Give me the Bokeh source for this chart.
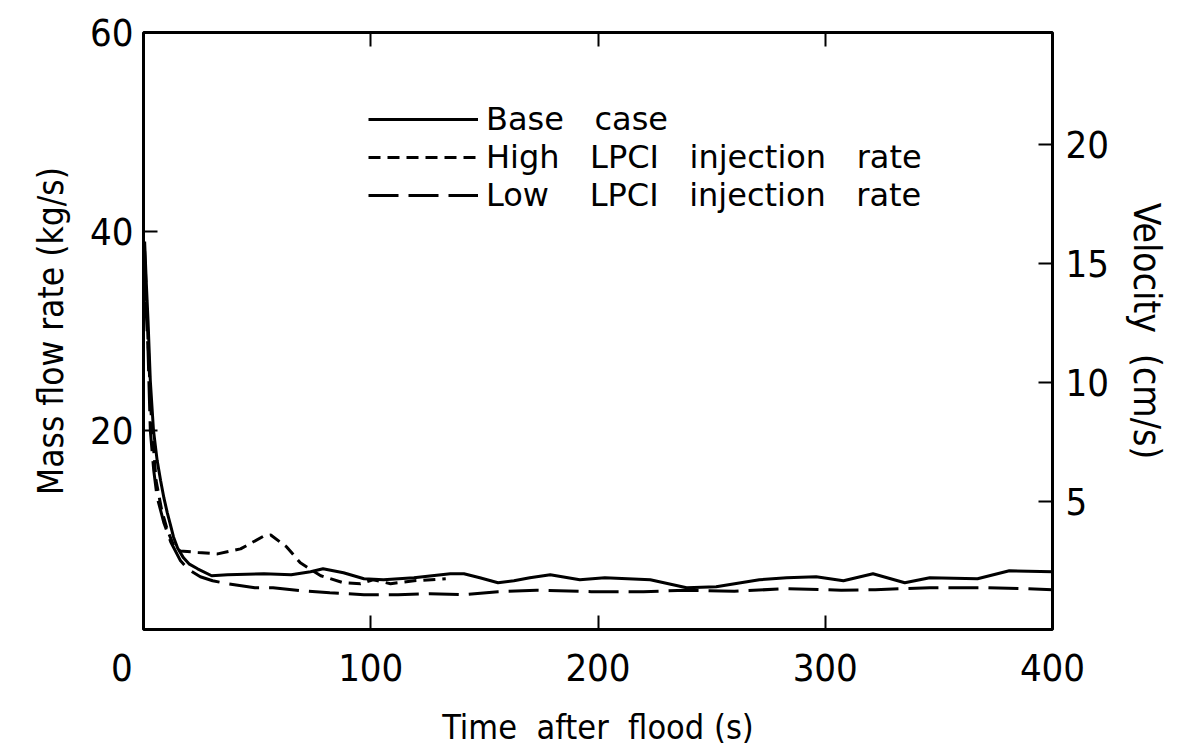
from bokeh.plotting import figure
from bokeh.models import Range1d, LinearAxis, FixedTicker, Legend, LegendItem
from bokeh.embed import file_html
from bokeh.resources import INLINE

# Mass flow rate at the core inlet after flooding, three LPCI cases
base_t = [0.5, 1.2, 2.0, 3.0, 4.4, 6.0, 7.5, 9.0, 10.5, 12.0, 13.2, 15.0, 17.6, 20.0, 23.8,
          30.0, 37.0, 53.0, 65.0, 73.5, 79.0, 88.0, 97.0, 105.6, 119.0, 135.0, 141.0, 148.0,
          156.0, 163.0, 170.0, 179.0, 192.0, 203.0, 223.0, 239.0, 252.0, 271.0, 283.0, 296.0,
          308.0, 321.0, 335.0, 346.0, 367.0, 381.0, 400.0]
base_m = [39.0, 35.0, 31.0, 25.0, 20.0, 17.0, 15.0, 13.2, 11.7, 10.4, 9.3, 8.2, 7.2, 6.6, 6.1,
          5.4, 5.5, 5.6, 5.5, 5.8, 6.1, 5.7, 5.1, 5.0, 5.2, 5.6, 5.6, 5.2,
          4.7, 4.9, 5.2, 5.5, 5.0, 5.2, 5.0, 4.2, 4.3, 5.0, 5.2, 5.3,
          4.9, 5.6, 4.7, 5.2, 5.1, 5.9, 5.8]

high_t = [0.5, 1.2, 2.0, 3.5, 5.5, 8.0, 10.5, 13.0, 16.0, 24.0, 32.6, 42.7, 53.0, 56.0, 63.0,
          69.0, 78.0, 88.0, 95.5, 101.0, 108.7, 119.0, 133.0]
high_m = [38.0, 34.0, 29.0, 21.0, 15.0, 12.0, 10.0, 8.6, 7.9, 7.75, 7.6, 8.1, 9.4, 9.5, 8.3,
          6.7, 5.4, 4.7, 4.6, 5.0, 4.6, 4.9, 5.1]

low_t = [0.5, 1.2, 2.0, 3.0, 4.5, 6.0, 9.0, 12.0, 16.3, 20.0, 25.0, 30.4, 37.0, 49.0, 57.0,
         69.0, 82.0, 97.0, 112.0, 126.0, 141.0, 156.0, 173.0, 197.0, 220.0, 239.0, 260.0,
         283.0, 307.0, 322.0, 346.0, 370.0, 389.0, 400.0]
low_m = [37.0, 32.0, 28.0, 20.0, 16.0, 13.3, 10.7, 8.8, 6.9, 6.0, 5.3, 4.9, 4.6, 4.2, 4.2,
         3.9, 3.7, 3.5, 3.5, 3.6, 3.5, 3.8, 3.95, 3.8, 3.8, 3.95, 3.85,
         4.1, 3.95, 4.0, 4.2, 4.2, 4.1, 4.0]

x_ticks = [0, 100, 200, 300, 400]
y_ticks = [20, 40, 60]
vel_ticks = [5, 10, 15, 20]
# non-breaking spaces keep the wide word gaps of the key
series_labels = ["Base\u00a0\u00a0 case",
                 "High\u00a0\u00a0 LPCI\u00a0\u00a0 injection\u00a0\u00a0 rate",
                 "Low\u00a0\u00a0\u00a0 LPCI\u00a0\u00a0 injection\u00a0\u00a0 rate"]

NARROW = "DejaVu Sans Condensed"
WIDE = "DejaVu Sans"

p = figure(width=1178, height=749, x_range=Range1d(0, 400), y_range=Range1d(0, 60),
           output_backend="svg", toolbar_location=None,
           min_border_left=143, min_border_right=126, min_border_top=32, min_border_bottom=120)
p.background_fill_color = "white"
p.border_fill_color = "white"
p.xgrid.visible = False
p.ygrid.visible = False
p.outline_line_color = "black"
p.outline_line_width = 3

p.extra_y_ranges = {"vel": Range1d(-0.38, 24.69)}


def style_axis(ax, label_size="38px", title_size="36px"):
    ax.axis_line_color = None
    ax.major_tick_in = 14
    ax.major_tick_out = 0
    ax.major_tick_line_color = "black"
    ax.major_tick_line_width = 2
    ax.minor_tick_line_color = None
    ax.major_label_text_font = NARROW
    ax.major_label_text_font_size = label_size
    ax.major_label_text_color = "black"
    ax.axis_label_text_font = NARROW
    ax.axis_label_text_font_size = title_size
    ax.axis_label_text_font_style = "normal"
    ax.axis_label_text_color = "black"


xa = p.xaxis[0]
xa.ticker = FixedTicker(ticks=x_ticks)
# the origin label is pushed left of the corner
xa.major_label_overrides = {0: "0\u00a0\u00a0\u00a0\u00a0"}
xa.axis_label = "Time\u00a0 after\u00a0 flood (s)"
xa.major_label_standoff = 16
xa.axis_label_standoff = 14
style_axis(xa, title_size="34px")

ya = p.yaxis[0]
ya.ticker = FixedTicker(ticks=y_ticks)
ya.axis_label = "Mass flow rate (kg/s)"
ya.major_label_standoff = 10
ya.axis_label_standoff = 16
style_axis(ya, title_size="35px")

ra = LinearAxis(y_range_name="vel", ticker=FixedTicker(ticks=vel_ticks))
ra.axis_label = "Velocity\u00a0 (cm/s)"
ra.major_label_standoff = 13
ra.axis_label_standoff = 13
style_axis(ra, title_size="37px")
p.add_layout(ra, "right")

ta = LinearAxis(ticker=FixedTicker(ticks=[100, 200, 300]))
ta.major_label_overrides = {100: "", 200: "", 300: ""}
style_axis(ta)
p.add_layout(ta, "above")

r_base = p.line(base_t, base_m, line_color="black", line_width=3)
r_high = p.line(high_t, high_m, line_color="black", line_width=3, line_dash="12 7")
r_low = p.line(low_t, low_m, line_color="black", line_width=3, line_dash="30 10")

legend = Legend(items=[LegendItem(label=series_labels[0], renderers=[r_base]),
                       LegendItem(label=series_labels[1], renderers=[r_high]),
                       LegendItem(label=series_labels[2], renderers=[r_low])],
                location=(225, 415), border_line_color=None, background_fill_alpha=0,
                glyph_width=110, glyph_height=30, label_height=30, spacing=0,
                padding=0, margin=0, label_standoff=8,
                label_text_font=WIDE, label_text_font_size="32px",
                label_text_color="black")
p.add_layout(legend)

open("out.html", "w").write(file_html(p, INLINE))
